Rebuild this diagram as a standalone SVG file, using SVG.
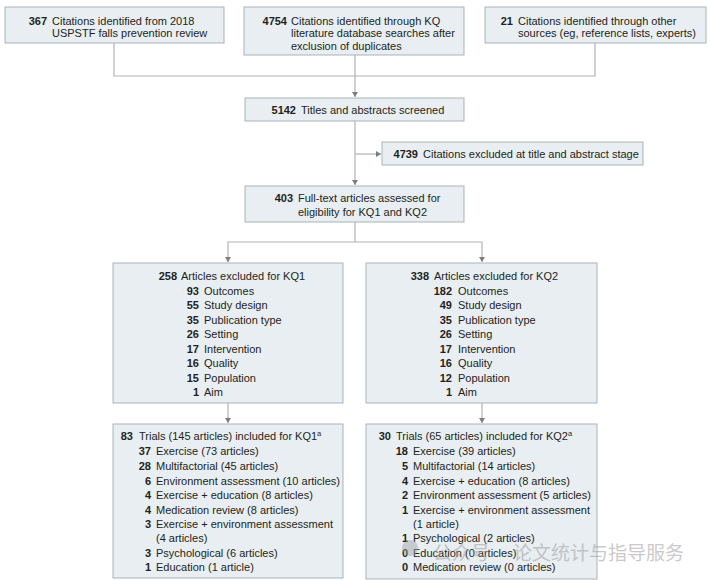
<svg xmlns="http://www.w3.org/2000/svg" width="710" height="580" viewBox="0 0 710 580">
<defs>
<style>
.box{fill:#e8eef2;stroke:#a9b3b9;stroke-width:1}
.con{fill:none;stroke:#b3b3b3;stroke-width:1.2}
text{font-family:"Liberation Sans",Arial,sans-serif;font-size:11px;fill:#231f20}
.n{font-weight:bold;text-anchor:end}
.wm{font-family:"Noto Sans CJK SC",sans-serif;font-size:19px;fill:#a0a0a0;opacity:0.55}
</style>
<marker id="ah" markerWidth="6" markerHeight="6" refX="5" refY="3" orient="auto" markerUnits="userSpaceOnUse">
<path d="M0,0 L5,3 L0,6 Z" fill="#7d7d7d"/>
</marker>
</defs>
<rect width="710" height="580" fill="#ffffff"/>

<g id="connectors">
<path class="con" d="M114 43 V76 H595 V43"/>
<path class="con" d="M355 55 V97" marker-end="url(#ah)"/>
<path class="con" d="M355 121 V185" marker-end="url(#ah)"/>
<path class="con" d="M355 154 H381" marker-end="url(#ah)"/>
<path class="con" d="M355 222 V242 H228 V262" marker-end="url(#ah)"/>
<path class="con" d="M355 242 H482 V262" marker-end="url(#ah)"/>
<path class="con" d="M228 403 V423" marker-end="url(#ah)"/>
<path class="con" d="M482 403 V423" marker-end="url(#ah)"/>
</g>

<g id="n367">
<rect class="box" x="5" y="7" width="219" height="36"/>
<text class="n" x="47" y="24.5">367</text>
<text x="52" y="24.5">Citations identified from 2018</text>
<text x="52" y="37">USPSTF falls prevention review</text>
</g>

<g id="n4754">
<rect class="box" x="244" y="7" width="220" height="48"/>
<text class="n" x="287" y="24.5">4754</text>
<text x="291" y="24.5">Citations identified through KQ</text>
<text x="291" y="37">literature database searches after</text>
<text x="291" y="50">exclusion of duplicates</text>
</g>

<g id="n21">
<rect class="box" x="485" y="7" width="221" height="36"/>
<text class="n" x="513" y="24.5">21</text>
<text x="518" y="24.5">Citations identified through other</text>
<text x="518" y="37">sources (eg, reference lists, experts)</text>
</g>

<g id="n5142">
<rect class="box" x="245" y="98" width="219" height="23"/>
<text class="n" x="296" y="114">5142</text>
<text x="301" y="114">Titles and abstracts screened</text>
</g>

<g id="n4739">
<rect class="box" x="382" y="142" width="261" height="23"/>
<text class="n" x="418" y="157.5">4739</text>
<text x="423" y="157.5">Citations excluded at title and abstract stage</text>
</g>

<g id="n403">
<rect class="box" x="245" y="186" width="219" height="36"/>
<text class="n" x="293" y="202">403</text>
<text x="298" y="202">Full-text articles assessed for</text>
<text x="298" y="216">eligibility for KQ1 and KQ2</text>
</g>

<g id="excl1">
<rect class="box" x="113" y="263" width="230" height="140"/>
<text class="n" x="177" y="280">258</text>
<text x="181" y="280">Articles excluded for KQ1</text>
<text class="n" x="199" y="294.5">93</text><text x="204" y="294.5">Outcomes</text>
<text class="n" x="199" y="309">55</text><text x="204" y="309">Study design</text>
<text class="n" x="199" y="323.5">35</text><text x="204" y="323.5">Publication type</text>
<text class="n" x="199" y="338">26</text><text x="204" y="338">Setting</text>
<text class="n" x="199" y="352.5">17</text><text x="204" y="352.5">Intervention</text>
<text class="n" x="199" y="367">16</text><text x="204" y="367">Quality</text>
<text class="n" x="199" y="381.5">15</text><text x="204" y="381.5">Population</text>
<text class="n" x="199" y="396">1</text><text x="204" y="396">Aim</text>
</g>

<g id="excl2">
<rect class="box" x="366" y="263" width="231" height="140"/>
<text class="n" x="429" y="280">338</text>
<text x="434" y="280">Articles excluded for KQ2</text>
<text class="n" x="452" y="294.5">182</text><text x="458" y="294.5">Outcomes</text>
<text class="n" x="452" y="309">49</text><text x="458" y="309">Study design</text>
<text class="n" x="452" y="323.5">35</text><text x="458" y="323.5">Publication type</text>
<text class="n" x="452" y="338">26</text><text x="458" y="338">Setting</text>
<text class="n" x="452" y="352.5">17</text><text x="458" y="352.5">Intervention</text>
<text class="n" x="452" y="367">16</text><text x="458" y="367">Quality</text>
<text class="n" x="452" y="381.5">12</text><text x="458" y="381.5">Population</text>
<text class="n" x="452" y="396">1</text><text x="458" y="396">Aim</text>
</g>

<g id="incl1">
<rect class="box" x="113" y="424" width="230" height="154"/>
<text class="n" x="133" y="440">83</text>
<text x="139" y="440">Trials (145 articles) included for KQ1<tspan font-size="7.5" dy="-4">a</tspan></text>
<text class="n" x="151" y="455">37</text><text x="156" y="455">Exercise (73 articles)</text>
<text class="n" x="151" y="470">28</text><text x="156" y="470">Multifactorial (45 articles)</text>
<text class="n" x="151" y="485">6</text><text x="156" y="485">Environment assessment (10 articles)</text>
<text class="n" x="151" y="499">4</text><text x="156" y="499">Exercise + education (8 articles)</text>
<text class="n" x="151" y="514">4</text><text x="156" y="514">Medication review (8 articles)</text>
<text class="n" x="151" y="528">3</text><text x="156" y="528">Exercise + environment assessment</text>
<text x="156" y="542">(4 articles)</text>
<text class="n" x="151" y="556.5">3</text><text x="156" y="556.5">Psychological (6 articles)</text>
<text class="n" x="151" y="571">1</text><text x="156" y="571">Education (1 article)</text>
</g>

<g id="incl2">
<rect class="box" x="366" y="424" width="231" height="155"/>
<text class="n" x="391" y="440">30</text>
<text x="396" y="440">Trials (65 articles) included for KQ2<tspan font-size="7.5" dy="-4">a</tspan></text>
<text class="n" x="408" y="455">18</text><text x="413" y="455">Exercise (39 articles)</text>
<text class="n" x="408" y="470">5</text><text x="413" y="470">Multifactorial (14 articles)</text>
<text class="n" x="408" y="485">4</text><text x="413" y="485">Exercise + education (8 articles)</text>
<text class="n" x="408" y="499">2</text><text x="413" y="499">Environment assessment (5 articles)</text>
<text class="n" x="408" y="514">1</text><text x="413" y="514">Exercise + environment assessment</text>
<text x="413" y="528">(1 article)</text>
<text class="n" x="408" y="542">1</text><text x="413" y="542">Psychological (2 articles)</text>
<text class="n" x="408" y="556.5">0</text><text x="413" y="556.5">Education (0 articles)</text>
<text class="n" x="408" y="571">0</text><text x="413" y="571">Medication review (0 articles)</text>
</g>

<g id="watermark">
<circle cx="410" cy="548" r="8" fill="#a0a0a0" opacity="0.45"/>
<text class="wm" x="433" y="560">公众号</text>
<text class="wm" x="513" y="560">论文统计与指导服务</text>
</g>
</svg>
